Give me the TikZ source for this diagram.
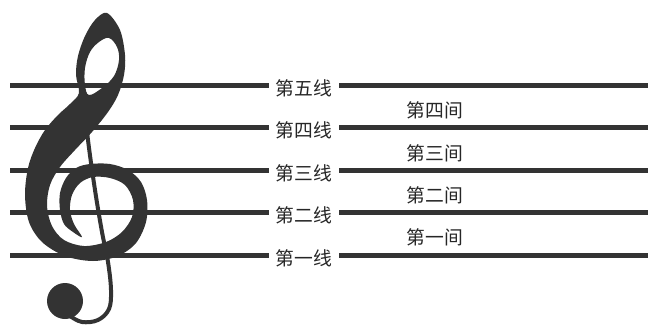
\documentclass[tikz,border=0pt]{standalone}
\usepackage{fontspec}
\newfontfamily\cjk{Noto Sans CJK SC}
\definecolor{ink}{HTML}{333333}
\definecolor{txt}{HTML}{262626}
\begin{document}
\begin{tikzpicture}[x=1pt,y=-1pt,
  staff/.style={draw=ink,line width=5pt},
  lab/.style={font=\cjk\fontsize{18.8}{20}\selectfont, text=txt, inner xsep=7pt, inner ysep=0pt},
  clef/.style={fill=ink}]
\useasboundingbox (0,0) rectangle (652,329);
\foreach \i/\y/\t in {5/85/五,4/127.5/四,3/170/三,2/212.5/二,1/255/一} {
  \coordinate (a\i) at (10,\y);
  \coordinate (b\i) at (648,\y);
  \node[lab] (t\i) at (304,\y+3) {第\t 线};
  \draw[staff] (a\i) -- (a\i -| t\i.west);
  \draw[staff] (t\i.east |- b\i) -- (b\i);
}
\foreach \i/\y/\t in {4/110/四,3/153/三,2/195/二,1/237/一} {
  \node[lab] (s\i) at (435,\y) {第\t 间};
}
% clef body
\fill[clef, even odd rule]
  plot[smooth cycle, tension=0.55] coordinates {
    (107,13) (95,20) (85,36) (78,56) (76,75) (79,93)
    (70,104) (58,115) (45,130) (35,148) (28,168) (25,195) (29,222) (42,242)
    (65,256) (93,261) (118,256) (136,243) (146,222) (147,200) (141,182)
    (128,170) (110,164) (90,164) (76,168) (66,178) (60,193) (60,210) (64,224)
    (73,232) (82,237)
    (74,224) (70,210) (72,195) (80,183) (93,177) (110,178) (125,185) (133,200)
    (132,217) (122,232) (106,242) (84,246) (64,240) (52,226) (47,206) (50,185)
    (60,167) (75,150) (92,132) (108,112) (118,95) (124,75) (125,55) (120,30)}
  plot[smooth cycle, tension=0.6] coordinates {
    (109,38) (117,47) (119,60) (114,76) (102,88) (89,95) (85,85) (85,68) (90,52) (99,42)};
% stem
\draw[ink, line width=4pt, line cap=round]
  plot[smooth, tension=0.6] coordinates {(83,92) (88,140) (95,190) (102,232) (108,262) (111,290) (109,309) (98,320) (82,322) (70,316)};
% ball
\fill[clef] (65,301) circle (18pt);
\end{tikzpicture}
\end{document}
